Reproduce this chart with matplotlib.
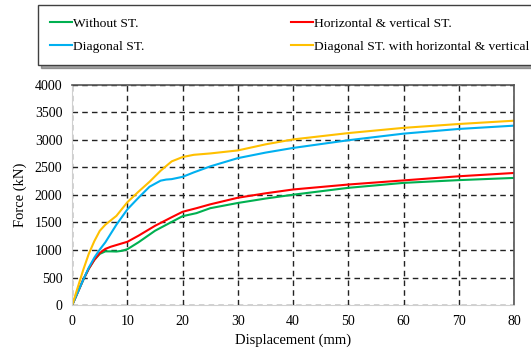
import matplotlib.pyplot as plt
import numpy as np

plt.rcParams['font.family'] = ['Liberation Serif', 'DejaVu Serif']

# displacement (mm) / force (kN)
x_without = [0, 1, 2, 3, 4, 5, 6, 7, 8, 9, 10, 12, 15, 18, 20, 22.5, 25, 30, 35, 40, 50, 60, 70, 80]
y_without = [0, 230, 460, 660, 820, 930, 975, 975, 972, 985, 1015, 1140, 1350, 1510, 1615, 1670, 1760, 1855, 1935, 2005, 2130, 2220, 2270, 2310]

x_hv = [0, 1, 2, 3, 4, 5, 6, 7, 8, 10, 12, 15, 18, 20, 22.5, 25, 30, 35, 40, 50, 60, 70, 80]
y_hv = [0, 230, 460, 660, 820, 945, 1020, 1060, 1090, 1150, 1260, 1440, 1595, 1695, 1760, 1830, 1950, 2030, 2100, 2190, 2265, 2340, 2400]

x_diag = [0, 1, 2, 3, 4, 5, 6, 8, 10, 12, 14, 16, 17, 18, 20, 22, 25, 30, 35, 40, 50, 60, 70, 80]
y_diag = [0, 230, 460, 680, 860, 1010, 1140, 1460, 1740, 1950, 2150, 2260, 2280, 2288, 2330, 2410, 2520, 2670, 2770, 2855, 2995, 3115, 3200, 3260]

x_diag_hv = [0, 1, 2, 3, 4, 5, 6, 7, 8, 10, 12, 14, 16, 18, 20, 22, 25, 30, 35, 40, 50, 60, 70, 80]
y_diag_hv = [0, 320, 640, 930, 1160, 1350, 1460, 1540, 1620, 1870, 2060, 2240, 2440, 2610, 2690, 2730, 2755, 2810, 2920, 3010, 3125, 3220, 3290, 3350]

# the last entry is cut at the figure edge in the source picture
labels = ['Without ST.', 'Horizontal & vertical ST.',
          'Diagonal ST.', 'Diagonal ST. with horizontal & vertical']
colors = ['#00b050', '#ff0000', '#00b0f0', '#ffc000']

fig = plt.figure(figsize=(5.31, 3.51), dpi=100)
ax = fig.add_axes([0.136, 0.131, 0.832, 0.627])

l1, = ax.plot(x_without, y_without, color=colors[0], lw=1.5)
l2, = ax.plot(x_hv, y_hv, color=colors[1], lw=1.5)
l3, = ax.plot(x_diag, y_diag, color=colors[2], lw=1.5)
l4, = ax.plot(x_diag_hv, y_diag_hv, color=colors[3], lw=1.5)

ax.set_xlim(0, 80)
ax.set_ylim(0, 4000)
ax.set_xticks(np.arange(0, 81, 10))
ax.set_yticks(np.arange(0, 4001, 500))
ax.grid(True, color='#222222', linestyle=(0, (4, 3)), lw=1)
ax.tick_params(length=0, labelsize=10, pad=7)
ax.set_xlabel('Displacement (mm)', fontsize=10.5, labelpad=4)
ax.set_ylabel('Force (kN)', fontsize=10.5, labelpad=6)
ax.spines['left'].set_color('#d0d0d0')
ax.spines['bottom'].set_color('#d0d0d0')
ax.spines['top'].set_color('#555555')
ax.spines['right'].set_color('#555555')
ax.spines['top'].set_linewidth(1.2)
ax.spines['right'].set_linewidth(1.2)

# legend order: row1 = Without, H&V ; row2 = Diagonal, Diagonal+H&V
leg = fig.legend([l1, l3, l2, l4], [labels[0], labels[2], labels[1], labels[3]],
                 ncol=2, loc='upper left', bbox_to_anchor=(0.072, 0.985),
                 fontsize=9.7, frameon=True, fancybox=False, shadow=True,
                 handlelength=1.6, handletextpad=0.1, columnspacing=10.9,
                 labelspacing=0.8, borderpad=0.9, borderaxespad=0)
leg.get_frame().set_edgecolor('#404040')
leg.get_frame().set_linewidth(1.0)

fig.savefig('out.png', dpi=100)
